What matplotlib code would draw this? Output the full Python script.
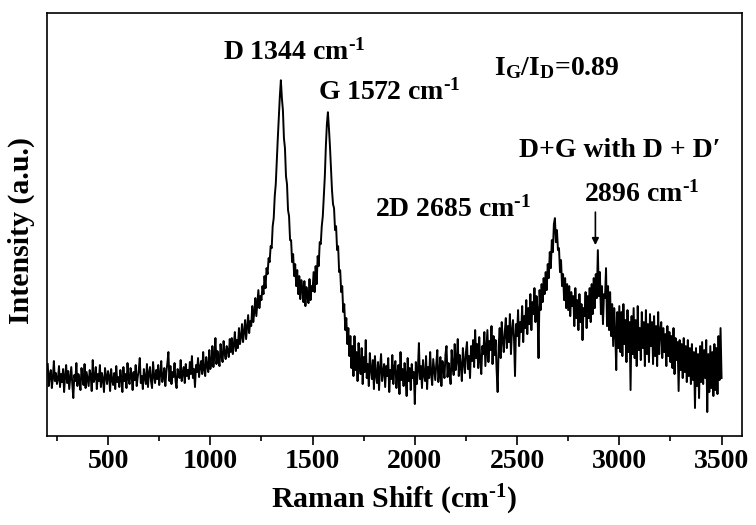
import numpy as np
import matplotlib
matplotlib.use("Agg")
import matplotlib.pyplot as plt

# Raman spectrum: 5 cm^-1 step, each segment is (first shift, intensities)
shift_step = 5
seg_a_start = 205
seg_a = [72, 50, 61, 66, 48, 58, 75, 55, 63, 52,
         57, 70, 49, 62, 54, 67, 44, 60, 71, 53,
         65, 47, 58, 69, 52, 38, 61, 55, 73, 50,
         62, 56, 46, 68, 59, 51, 72, 48, 64, 57,
         50, 66, 61, 45, 76, 54, 58, 69, 47, 62,
         55, 71, 49, 63, 57, 44, 68, 60, 52, 65]
seg_b_start = 505
seg_b = [60, 45, 67, 56, 51, 63, 47, 70, 54, 59,
         49, 66, 58, 44, 69, 55, 62, 48, 73, 57,
         52, 68, 61, 46, 64, 56, 71, 50, 59, 66,
         78, 53, 60, 47, 67, 58, 52, 72, 49, 63,
         69, 55, 48, 74, 60, 53, 66, 57, 71, 51,
         62, 75, 54, 59, 68, 50, 64, 73, 84, 55]
seg_c_start = 805
seg_c = [70, 52, 64, 59, 73, 55, 48, 67, 61, 58,
         76, 55, 63, 69, 53, 72, 60, 66, 57, 74,
         62, 80, 58, 67, 49, 71, 64, 78, 59, 69,
         75, 62, 84, 66, 60, 79, 70, 64, 86, 67,
         73, 90, 69, 81, 98, 72, 85, 76, 70, 92,
         80, 74, 95, 83, 77, 90, 86, 79, 97, 84]
seg_d_start = 1105
seg_d = [98, 82, 91, 104, 85, 96, 88, 108, 92, 99,
         112, 94, 104, 116, 97, 109, 121, 103, 115, 110,
         130, 114, 124, 138, 120, 133, 146, 128, 140, 136,
         150, 142, 160, 148, 168, 162, 178, 174, 190, 188,
         210, 218, 240, 252, 276, 298, 320, 340, 356, 338,
         326, 298, 288, 260, 252, 226, 220, 196, 196, 174]
seg_e_start = 1405
seg_e = [182, 160, 172, 150, 166, 142, 160, 137, 156, 147,
         134, 155, 130, 149, 140, 133, 157, 136, 150, 145,
         164, 144, 170, 152, 180, 170, 194, 192, 210, 220,
         240, 260, 290, 312, 324, 308, 290, 268, 246, 232,
         228, 206, 210, 186, 190, 164, 166, 144, 150, 124,
         132, 106, 118, 92, 108, 80, 100, 68, 90, 60]
seg_f_start = 1705
seg_f = [100, 66, 84, 55, 93, 70, 62, 88, 52, 79,
         64, 96, 58, 72, 50, 83, 67, 57, 76, 47,
         80, 61, 53, 74, 46, 68, 82, 55, 64, 72,
         49, 70, 60, 78, 44, 66, 57, 81, 52, 69,
         75, 48, 63, 71, 42, 84, 56, 67, 50, 73,
         60, 40, 78, 55, 68, 46, 72, 58, 64, 32]
seg_g_start = 2005
seg_g = [74, 52, 66, 93, 57, 70, 48, 76, 61, 55,
         80, 47, 69, 58, 84, 62, 51, 77, 66, 56,
         72, 86, 54, 63, 79, 50, 75, 68, 58, 82,
         90, 59, 73, 64, 52, 86, 70, 61, 92, 66,
         76, 97, 60, 81, 70, 55, 88, 74, 63, 84,
         94, 67, 80, 58, 90, 75, 96, 69, 106, 78]
seg_h_start = 2305
seg_h = [92, 68, 99, 75, 62, 90, 82, 104, 70, 88,
         106, 74, 95, 86, 110, 72, 100, 81, 96, 66,
         44, 90, 108, 78, 114, 96, 84, 104, 118, 88,
         110, 94, 122, 82, 105, 116, 98, 60, 112, 100,
         126, 90, 114, 104, 130, 94, 120, 108, 136, 102,
         128, 112, 142, 106, 134, 122, 148, 114, 140, 126]
seg_i_start = 2605
seg_i = [78, 146, 126, 152, 134, 158, 142, 164, 146, 172,
         158, 184, 168, 196, 184, 212, 218, 194, 206, 186,
         188, 164, 176, 150, 162, 136, 158, 128, 152, 126,
         150, 120, 144, 130, 140, 110, 148, 118, 136, 106,
         142, 114, 132, 96, 128, 120, 144, 108, 140, 118,
         148, 114, 152, 122, 158, 128, 162, 138, 186, 140]
seg_j_start = 2905
seg_j = [164, 122, 150, 112, 142, 138, 168, 110, 150, 106,
         144, 100, 132, 90, 128, 104, 66, 124, 88, 130,
         84, 124, 80, 132, 92, 116, 74, 126, 84, 114,
         46, 120, 82, 128, 78, 116, 70, 130, 86, 108,
         76, 124, 88, 114, 70, 126, 82, 112, 74, 122,
         90, 114, 72, 120, 80, 110, 70, 124, 82, 106]
seg_k_start = 3205
seg_k = [114, 78, 108, 84, 102, 70, 110, 80, 104, 74,
         100, 68, 108, 62, 98, 76, 94, 45, 96, 66,
         92, 58, 98, 64, 90, 54, 96, 60, 88, 52,
         92, 56, 84, 28, 88, 50, 82, 38, 90, 54,
         94, 52, 86, 58, 96, 24, 82, 44, 90, 48,
         84, 40, 92, 46, 88, 42, 100, 56, 108, 58]

x_ticks = [500, 1000, 1500, 2000, 2500, 3000, 3500]

segments = [(seg_a_start, seg_a), (seg_b_start, seg_b), (seg_c_start, seg_c),
            (seg_d_start, seg_d), (seg_e_start, seg_e), (seg_f_start, seg_f),
            (seg_g_start, seg_g), (seg_h_start, seg_h), (seg_i_start, seg_i),
            (seg_j_start, seg_j), (seg_k_start, seg_k)]
shift = np.concatenate([start + shift_step * np.arange(len(vals)) for start, vals in segments])
intensity = np.concatenate([np.asarray(vals, dtype=float) for _, vals in segments])

plt.rcParams['font.family'] = ['Liberation Serif', 'DejaVu Serif']
plt.rcParams['font.weight'] = 'bold'
plt.rcParams['mathtext.default'] = 'regular'

fig = plt.figure(figsize=(7.56, 5.25), dpi=100)
ax = fig.add_axes([0.0618, 0.1695, 0.9197, 0.8052])
ax.plot(shift, intensity, color='black', lw=1.4)

ax.set_xlim(200, 3600)
ax.set_ylim(0, 423)
ax.set_xticks(x_ticks)
ax.set_xticks(np.arange(250, 3600, 500), minor=True)
ax.set_yticks([])
ax.tick_params(axis='x', which='major', direction='out', length=6.5, width=1.2,
               labelsize=20, pad=3)
ax.tick_params(axis='x', which='minor', direction='out', length=3.6, width=1.2)
for lab in ax.get_xticklabels():
    lab.set_fontweight('bold')
for sp in ax.spines.values():
    sp.set_linewidth(1.2)

ax.set_xlabel('Raman Shift (cm$^{\u2010 1}$)', fontsize=21.5, fontweight='bold', labelpad=6)
ax.set_ylabel('Intensity (a.u.)', fontsize=21.5, fontweight='bold')
ax.yaxis.set_label_coords(-0.017, 0.485)

fs = 20
sup = '$^{\u2010 1}$'
ax.text(1061, 376.7, 'D 1344 cm' + sup, fontsize=fs, fontweight='bold', ha='left', va='baseline')
ax.text(1529, 336.7, 'G 1572 cm' + sup, fontsize=fs, fontweight='bold', ha='left', va='baseline')
ax.text(2385, 361, 'I$_G$/I$_D$=0.89', fontsize=fs, fontweight='bold', ha='left', va='baseline')
ax.text(1806, 220, '2D 2685 cm' + sup, fontsize=fs, fontweight='bold', ha='left', va='baseline')
ax.text(2509, 278.7, 'D+G with D + D\u2032', fontsize=fs, fontweight='bold', ha='left', va='baseline')
ax.text(2825, 234.3, '2896 cm' + sup, fontsize=fs, fontweight='bold', ha='left', va='baseline')
ax.annotate('', xy=(2883, 191), xytext=(2883, 224),
            arrowprops=dict(arrowstyle='-|>', color='black', lw=1.2,
                            mutation_scale=10, shrinkA=0, shrinkB=0))

fig.savefig('out.png', dpi=100)
